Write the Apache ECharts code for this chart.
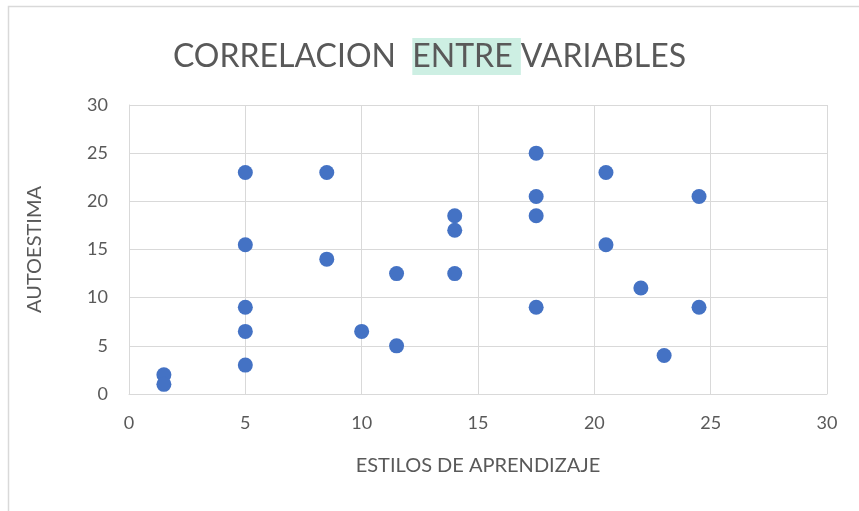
<!DOCTYPE html>
<html><head><meta charset="utf-8">
<script src="https://cdn.jsdelivr.net/npm/echarts@6/dist/echarts.min.js"></script>
<style>html,body{margin:0;padding:0;background:#fff}#c{width:859px;height:511px}</style>
</head><body><div id="c"></div>
<script>
const estilos = [1.5, 1.5, 5, 5, 5, 5, 5, 8.5, 8.5, 10, 11.5, 11.5, 14, 14, 14, 17.5, 17.5, 17.5, 17.5, 20.5, 20.5, 22, 23, 24.5, 24.5];
const autoestima = [2, 1, 23, 15.5, 9, 6.5, 3, 23, 14, 6.5, 12.5, 5, 18.5, 17, 12.5, 25, 20.5, 18.5, 9, 23, 15.5, 11, 4, 20.5, 9];
const xTicks = [0, 5, 10, 15, 20, 25, 30];
const yTicks = [0, 5, 10, 15, 20, 25, 30];
const FONT = 'Lato';
const chart = echarts.init(document.getElementById('c'));
chart.setOption({
  animation: false,
  graphic: [{type: 'rect', shape: {x: 8.5, y: 6.5, width: 900, height: 600}, style: {fill: 'none', stroke: '#d9d9d9', lineWidth: 1.5}, silent: true}],
  title: {
    text: '{a|CORRELACION  }{b|ENTRE }{a|VARIABLES}',
    left: 'center', top: 33,
    textStyle: {
      fontWeight: 'normal',
      rich: {
        a: {fontFamily: FONT, fontSize: 32, fontWeight: 'normal', color: '#595959', lineHeight: 37},
        b: {fontFamily: FONT, fontSize: 32, fontWeight: 'normal', color: '#595959', backgroundColor: '#cdefe3', lineHeight: 37, height: 37}
      }
    }
  },
  grid: {left: 129, right: 32, top: 105, bottom: 117},
  xAxis: {
    type: 'value', min: 0, max: 30, interval: 5,
    name: 'ESTILOS DE APRENDIZAJE', nameLocation: 'middle', nameGap: 62,
    nameTextStyle: {fontFamily: FONT, fontSize: 20, color: '#595959'},
    axisLine: {show: true, lineStyle: {color: '#d9d9d9'}},
    axisTick: {show: false},
    axisLabel: {fontFamily: FONT, fontSize: 18, color: '#595959', margin: 20, formatter: v => xTicks.includes(v) ? String(v) : ''},
    splitLine: {show: true, lineStyle: {color: '#d9d9d9', width: 1}}
  },
  yAxis: {
    type: 'value', min: 0, max: 30, interval: 5,
    name: 'AUTOESTIMA', nameLocation: 'middle', nameGap: 84,
    nameTextStyle: {fontFamily: FONT, fontSize: 20, color: '#595959'},
    axisLine: {show: true, lineStyle: {color: '#d9d9d9'}},
    axisTick: {show: false},
    axisLabel: {fontFamily: FONT, fontSize: 18, color: '#595959', margin: 21, formatter: v => yTicks.includes(v) ? String(v) : ''},
    splitLine: {show: true, lineStyle: {color: '#d9d9d9', width: 1}}
  },
  series: [{
    type: 'scatter', symbol: 'circle', symbolSize: 15,
    itemStyle: {color: '#4472C4', opacity: 1},
    data: estilos.map((x, i) => [x, autoestima[i]])
  }]
});
</script></body></html>
